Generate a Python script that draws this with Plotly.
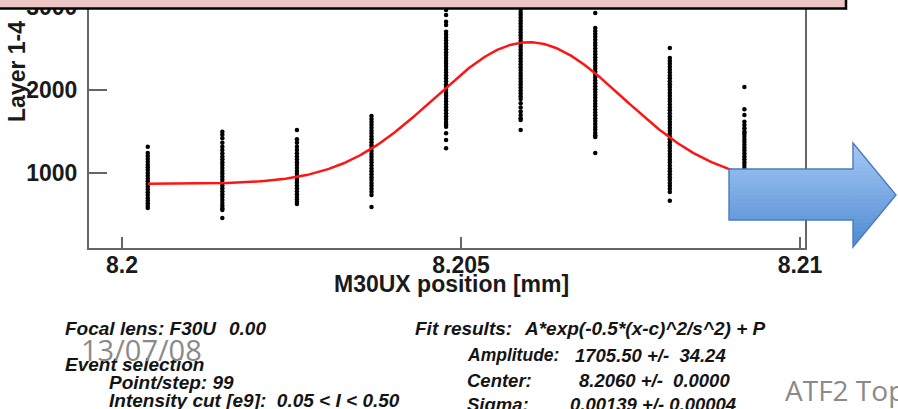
import numpy as np
import plotly.graph_objects as go

# ---------------- data ----------------
positions_mm = [8.20038, 8.20148, 8.20258, 8.20368, 8.20478, 8.20588, 8.20698, 8.20808, 8.20918]

col_1 = [1317, 1241, 1205, 1170, 1135, 1100, 1068, 1035, 1000, 968, 935, 900, 868, 835, 800,
         768, 735, 700, 668, 635, 605, 578]
col_2 = [1498, 1460, 1418, 1365, 1317, 1277, 1237, 1200, 1165, 1130, 1095, 1060, 1025, 990, 955,
         920, 885, 850, 815, 780, 745, 710, 675, 640, 605, 575, 554, 458]
col_3 = [1518, 1406, 1365, 1317, 1277, 1237, 1200, 1165, 1130, 1095, 1060, 1025, 990, 955, 920,
         885, 850, 815, 780, 745, 710, 680, 650, 627]
col_4 = [1687, 1650, 1615, 1580, 1545, 1510, 1475, 1440, 1405, 1370, 1335, 1300, 1265, 1230, 1195,
         1160, 1125, 1090, 1055, 1020, 985, 950, 915, 880, 845, 810, 775, 735, 590]
col_5 = [2964, 2904, 2823, 2783, 2703, 2665, 2630, 2595, 2560, 2525, 2490, 2455, 2420, 2385, 2350,
         2315, 2280, 2245, 2210, 2175, 2140, 2105, 2070, 2035, 2000, 1965, 1930, 1895, 1860, 1825,
         1790, 1755, 1720, 1685, 1650, 1615, 1585, 1558, 1478, 1398, 1298]
col_6 = [3150, 3115, 3080, 3045, 3010, 2975, 2940, 2905, 2870, 2835, 2800, 2765, 2730, 2695, 2660,
         2625, 2590, 2555, 2520, 2485, 2450, 2415, 2380, 2345, 2310, 2275, 2240, 2205, 2170, 2135,
         2100, 2065, 2030, 1995, 1960, 1925, 1890, 1840, 1790, 1740, 1700, 1660, 1639, 1518]
col_7 = [2928, 2747, 2710, 2675, 2640, 2605, 2570, 2535, 2500, 2465, 2430, 2395, 2360, 2325, 2290,
         2255, 2220, 2185, 2150, 2115, 2080, 2045, 2010, 1975, 1940, 1905, 1870, 1835, 1800, 1765,
         1730, 1695, 1660, 1625, 1590, 1555, 1520, 1485, 1455, 1434, 1241]
col_8 = [2506, 2386, 2350, 2315, 2280, 2245, 2210, 2175, 2140, 2105, 2070, 2035, 2000, 1965, 1930,
         1895, 1860, 1825, 1790, 1755, 1720, 1685, 1650, 1615, 1580, 1545, 1510, 1475, 1440, 1405,
         1370, 1335, 1300, 1265, 1230, 1195, 1160, 1125, 1090, 1055, 1020, 985, 950, 915, 880,
         845, 810, 771, 666]
col_9 = [2036, 1767, 1699, 1618, 1578, 1540, 1500, 1478, 1445, 1410, 1375, 1340, 1305, 1270, 1235,
         1200, 1165, 1130, 1095, 1060, 1025, 990, 955, 920, 885, 850, 815, 780, 745, 710]
columns = [col_1, col_2, col_3, col_4, col_5, col_6, col_7, col_8, col_9]

fit_amplitude = 1705.50
fit_amplitude_err = 34.24
fit_center = 8.2060
fit_center_err = 0.0000
fit_sigma = 0.00139
fit_sigma_err = 0.00004
fit_pedestal = 870.0

x_ticks = [8.2, 8.205, 8.21]
x_tick_labels = ["8.2", "8.205", "8.21"]
y_ticks = [1000, 2000, 3000]
y_tick_labels = ["1000", "2000", "3000"]

# ---------------- layout helpers ----------------
W, H = 898, 409
L, R, T, B = 89, 805, 0, 248          # plot-box pixel edges


def px(x):
    return (x - L) / (R - L)


def py(y):
    return (B - y) / (B - T)


xs, ys = [], []
for pos, vals in zip(positions_mm, columns):
    xs += [pos] * len(vals)
    ys += vals

fig = go.Figure()
fig.add_trace(go.Scatter(x=xs, y=ys, mode="markers",
                         marker=dict(size=4.5, color="black", line=dict(width=0)),
                         hoverinfo="skip", showlegend=False))

xf = np.linspace(positions_mm[0], positions_mm[-1], 400)
yf = fit_amplitude * np.exp(-0.5 * (xf - fit_center) ** 2 / fit_sigma ** 2) + fit_pedestal
fig.add_trace(go.Scatter(x=xf, y=yf, mode="lines", line=dict(color="#ff1414", width=2.5),
                         hoverinfo="skip", showlegend=False))

root_font = "Liberation Sans, Arial, Helvetica, sans-serif"
axis_common = dict(showgrid=False, zeroline=False, showline=True, linecolor="#666",
                   linewidth=2, mirror=True, ticks="inside", tickcolor="#666", tickwidth=2,
                   automargin=False, ticklabeloverflow="allow",
                   tickfont=dict(family=root_font, size=23, color="#1a1a1a", weight="bold"))

fig.update_xaxes(range=[8.2 - 33 / 67800, 8.21 + 5 / 67800], tickvals=x_ticks,
                 ticktext=x_tick_labels, ticklen=11, ticklabelstandoff=-5, **axis_common)
fig.update_yaxes(range=[96.4, 3084], tickvals=y_ticks, ticktext=y_tick_labels,
                 ticklen=18, ticklabelstandoff=5, **axis_common)

shapes = []

# ---- gradient blue arrow (decoration) ----
bx0, hx, tipx = 729, 853, 896
btop, bbot, htop, hbot, mid = 169, 220, 143, 247, 195


def rx(y):
    return hx + (tipx - hx) * (1 - abs(y - mid) / (mid - htop))


def path(points):
    return "M " + " L ".join(f"{px(x):.5f},{py(y):.5f}" for x, y in points) + " Z"


c_top = np.array([165, 202, 246])
c_bot = np.array([80, 138, 210])
nb = 26
edges = np.linspace(htop, hbot, nb + 1)
for i in range(nb):
    a, b = edges[i], edges[i + 1] + 0.6
    t = (0.5 * (edges[i] + edges[i + 1]) - htop) / (hbot - htop)
    col = c_top + (c_bot - c_top) * t
    color = f"rgb({int(col[0])},{int(col[1])},{int(col[2])})"
    a2, b2 = max(a, htop), min(b, hbot)
    pts = [(hx, a2), (rx(a2), a2)]
    if a2 < mid < b2:
        pts.append((tipx, mid))
    pts += [(rx(b2), b2), (hx, b2)]
    shapes.append(dict(type="path", path=path(pts), xref="paper", yref="paper",
                       fillcolor=color, line=dict(width=0), layer="above"))
    ba, bb = max(a, btop), min(b, bbot)
    if ba < bb:
        shapes.append(dict(type="path",
                           path=path([(bx0, ba), (hx + 0.8, ba), (hx + 0.8, bb), (bx0, bb)]),
                           xref="paper", yref="paper", fillcolor=color, line=dict(width=0),
                           layer="above"))

outline = [(bx0, btop), (hx, btop), (hx, htop), (tipx, mid), (hx, hbot), (hx, bbot), (bx0, bbot)]
shapes.append(dict(type="path", path=path(outline), xref="paper", yref="paper",
                   fillcolor="rgba(0,0,0,0)", line=dict(color="#4a7cba", width=1.4),
                   layer="above"))

# ---- pink title box at the top ----
shapes.append(dict(type="rect", xref="paper", yref="paper", x0=px(-6), x1=px(846),
                   y0=py(-12), y1=py(8.5), fillcolor="#ecc5c5",
                   line=dict(color="black", width=2.5), layer="above"))

fig.update_layout(shapes=shapes)

# ---------------- texts ----------------
ann = []


def text(s, x, y, size=19, xanchor="left", bold=True, italic=True, color="#141414",
         family=root_font, angle=0, yanchor="middle"):
    ann.append(dict(text=s, x=px(x), y=py(y), xref="paper", yref="paper", showarrow=False,
                    xanchor=xanchor, yanchor=yanchor, textangle=angle,
                    font=dict(family=family, size=size, color=color,
                              weight="bold" if bold else "normal",
                              style="italic" if italic else "normal")))


nb_ = "\u00a0"
text("Layer 1-4", 17, 72, size=23, xanchor="center", italic=False, angle=-90, color="#1a1a1a")
text("M30UX position [mm]", 451, 284, size=23, xanchor="center", italic=False, color="#1a1a1a")

text("Focal lens: F30U", 63, 328)
text("0.00", 227, 328)
text("Event selection", 63, 364)
text("Point/step: 99", 107, 382)
text(f"Intensity cut [e9]:{nb_}{nb_}0.05 < I < 0.50", 107, 400)

text("Fit results:", 413, 328)
text("A*exp(-0.5*(x-c)^2/s^2) + P", 522, 328)
text("Amplitude:", 465, 355, size=17.5)
text(f"{fit_amplitude:.2f} +/-{nb_}{nb_}{fit_amplitude_err:.2f}", 573, 355, size=18.5)
text("Center:", 465, 380, size=18.5)
text(f"{fit_center:.4f} +/-{nb_}{nb_}{fit_center_err:.4f}", 577, 380, size=18.5)
text("Sigma:", 465, 404, size=18.5)
text(f"{fit_sigma:.5f} +/- {fit_sigma_err:.5f}", 568, 404, size=18.5)

text("13/07/08", 79, 349, size=29, bold=False, italic=False, color="#8a8a8a",
     family="Open Sans, Noto Sans, sans-serif")
text("ATF2 Top", 783, 390, size=28, bold=False, italic=False, color="#8a8a8a",
     family="Open Sans, Noto Sans, sans-serif")

fig.update_layout(annotations=ann, width=W, height=H, autosize=False,
                  margin=dict(l=L, r=W - R, t=T, b=H - B, autoexpand=False),
                  paper_bgcolor="white", plot_bgcolor="white")

fig.write_html("out.html", config={"displayModeBar": False, "staticPlot": True},
               post_script="document.body.style.margin='0px';"
                           "document.body.style.overflow='hidden';")
